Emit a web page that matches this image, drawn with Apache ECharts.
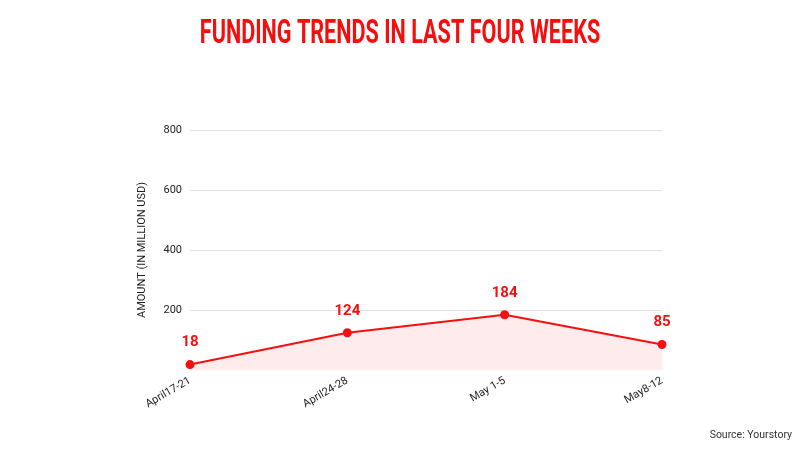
<!DOCTYPE html>
<html>
<head>
<meta charset="utf-8">
<script src="https://cdn.jsdelivr.net/npm/echarts@6/dist/echarts.min.js"></script>
<style>html,body{margin:0;padding:0;background:#fff}#c{width:800px;height:450px}</style>
</head>
<body>
<div id="c"></div>
<script>
const categories = ['April17-21', 'April24-28', 'May 1-5', 'May8-12'];
const amounts = [18, 124, 184, 85];
const yTicks = [0, 200, 400, 600, 800];

const chart = echarts.init(document.getElementById('c'));
chart.setOption({
  animation: false,
  backgroundColor: '#fff',
  graphic: [{
    type: 'text',
    x: 400,
    y: 18,
    scaleX: 0.655,
    style: {
      text: 'FUNDING TRENDS IN LAST FOUR WEEKS',
      fontFamily: 'Roboto',
      fontWeight: 'bold',
      fontSize: 33,
      fill: '#f40f0f',
      align: 'center',
      verticalAlign: 'top'
    }
  }, {
    type: 'text',
    right: 8,
    top: 430,
    style: { text: 'Source: Yourstory', fontFamily: 'Roboto', fontSize: 10.5, fill: '#333' }
  }],
  grid: { left: 190, right: 138, top: 130, bottom: 80, containLabel: false },
  xAxis: {
    type: 'category',
    data: categories,
    boundaryGap: false,
    axisLine: { show: false },
    axisTick: { show: false },
    axisLabel: {
      rotate: 30,
      fontFamily: 'Roboto',
      fontSize: 11,
      color: '#222',
      margin: 10
    }
  },
  yAxis: {
    type: 'value',
    min: yTicks[0],
    max: yTicks[yTicks.length - 1],
    interval: 200,
    name: 'AMOUNT (IN MILLION USD)',
    nameLocation: 'middle',
    nameGap: 42,
    nameTextStyle: { fontFamily: 'Roboto', fontSize: 11, color: '#222' },
    axisLine: { show: false },
    axisTick: { show: false },
    axisLabel: {
      fontFamily: 'Roboto', fontSize: 11, color: '#222', margin: 8,
      formatter: v => (v === 0 ? '' : String(v))
    },
    splitLine: {
      lineStyle: { color: ['rgba(0,0,0,0)', '#e3e3e3', '#e3e3e3', '#e3e3e3', '#e3e3e3'], width: 1 }
    }
  },
  series: [{
    type: 'line',
    data: amounts,
    symbol: 'circle',
    symbolSize: 9,
    lineStyle: { color: '#f41010', width: 2 },
    itemStyle: { color: '#f41010' },
    areaStyle: { color: '#fde3e3' },
    label: {
      show: true,
      position: 'top',
      distance: 10,
      fontFamily: 'Roboto',
      fontWeight: 'bold',
      fontSize: 15,
      color: '#f41010'
    }
  }]
});
</script>
</body>
</html>
